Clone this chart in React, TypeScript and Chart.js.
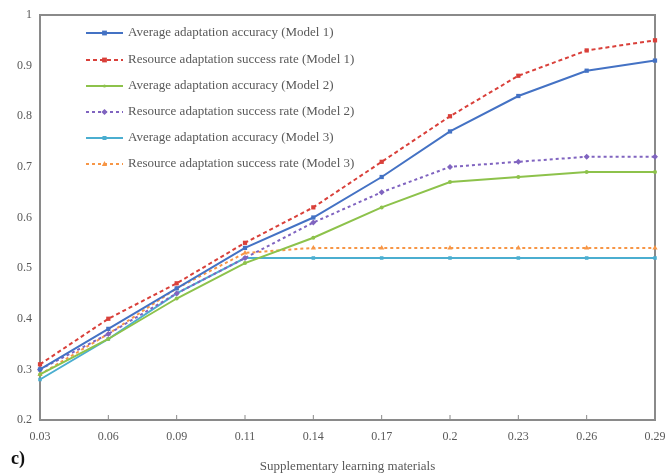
import React, { useEffect, useRef } from 'react';
import { Chart, registerables } from 'chart.js';
Chart.register(...registerables);

const categories = ['0.03', '0.06', '0.09', '0.11', '0.14', '0.17', '0.2', '0.23', '0.26', '0.29'];
const avgAccM1 = [0.30, 0.38, 0.46, 0.54, 0.60, 0.68, 0.77, 0.84, 0.89, 0.91];
const resRateM1 = [0.31, 0.40, 0.47, 0.55, 0.62, 0.71, 0.80, 0.88, 0.93, 0.95];
const avgAccM2 = [0.29, 0.36, 0.44, 0.51, 0.56, 0.62, 0.67, 0.68, 0.69, 0.69];
const resRateM2 = [0.30, 0.37, 0.45, 0.52, 0.59, 0.65, 0.70, 0.71, 0.72, 0.72];
const avgAccM3 = [0.28, 0.36, 0.45, 0.52, 0.52, 0.52, 0.52, 0.52, 0.52, 0.52];
const resRateM3 = [0.29, 0.37, 0.46, 0.53, 0.54, 0.54, 0.54, 0.54, 0.54, 0.54];
const seriesNames = [
  'Average adaptation accuracy (Model 1)',
  'Resource adaptation success rate (Model 1)',
  'Average adaptation accuracy (Model 2)',
  'Resource adaptation success rate (Model 2)',
  'Average adaptation accuracy (Model 3)',
  'Resource adaptation success rate (Model 3)',
];
const xTitle = 'Supplementary learning materials';
const yMin = 0.2;
const yMax = 1;
const yStep = 0.1;

const colors = ['#4472C4', '#D9403A', '#8DC24B', '#8064C0', '#4BAED0', '#F79646'];
const dashes = [[], [4, 3], [], [3, 3], [], [3, 3]];
const pointStyles = ['rect', 'rect', 'circle', 'rectRot', 'rect', 'triangle'];
const pointRadii = [3, 3, 2, 3, 2.5, 3];
const seriesData = [avgAccM1, resRateM1, avgAccM2, resRateM2, avgAccM3, resRateM3];

function drawMarker(ctx: CanvasRenderingContext2D, style: string, x: number, y: number, r: number, color: string) {
  ctx.save();
  ctx.fillStyle = color;
  ctx.setLineDash([]);
  ctx.beginPath();
  if (style === 'rect') {
    ctx.rect(x - r, y - r, 2 * r, 2 * r);
  } else if (style === 'rectRot') {
    ctx.moveTo(x, y - r * 1.3);
    ctx.lineTo(x + r * 1.3, y);
    ctx.lineTo(x, y + r * 1.3);
    ctx.lineTo(x - r * 1.3, y);
    ctx.closePath();
  } else if (style === 'triangle') {
    ctx.moveTo(x, y - r * 1.2);
    ctx.lineTo(x + r * 1.1, y + r * 0.8);
    ctx.lineTo(x - r * 1.1, y + r * 0.8);
    ctx.closePath();
  } else {
    ctx.arc(x, y, r, 0, Math.PI * 2);
  }
  ctx.fill();
  ctx.restore();
}

const framePlugin = {
  id: 'frameAndLegend',
  beforeDatasetsDraw(chart: any) {
    const { ctx, chartArea } = chart;
    ctx.save();
    ctx.strokeStyle = '#8a8a8a';
    ctx.lineWidth = 2;
    ctx.strokeRect(chartArea.left, chartArea.top, chartArea.right - chartArea.left, chartArea.bottom - chartArea.top);
    const xs = chart.scales.x;
    ctx.lineWidth = 1;
    categories.forEach((_, i) => {
      const px = xs.getPixelForValue(i);
      ctx.beginPath();
      ctx.moveTo(px, chartArea.bottom);
      ctx.lineTo(px, chartArea.bottom - 5);
      ctx.stroke();
    });
    ctx.restore();
  },
  afterDraw(chart: any) {
    const { ctx } = chart;
    ctx.save();
    const x0 = 86;
    const x1 = 123;
    const ys = [33, 60, 86, 112, 138, 164];
    ctx.font = '13px "Liberation Serif", "Times New Roman", serif';
    ctx.textBaseline = 'middle';
    seriesNames.forEach((name, i) => {
      const y = ys[i];
      ctx.strokeStyle = colors[i];
      ctx.lineWidth = 2;
      ctx.setLineDash(dashes[i]);
      ctx.beginPath();
      ctx.moveTo(x0, y);
      ctx.lineTo(x1, y);
      ctx.stroke();
      drawMarker(ctx, pointStyles[i], (x0 + x1) / 2, y, pointRadii[i] * 0.8, colors[i]);
      ctx.fillStyle = '#595959';
      ctx.fillText(name, 128, y);
    });
    ctx.restore();
  },
};

export default function App() {
  const canvasRef = useRef<HTMLCanvasElement | null>(null);

  useEffect(() => {
    if (!canvasRef.current) return;
    const chart = new Chart(canvasRef.current, {
      type: 'line',
      data: {
        labels: categories,
        datasets: seriesData.map((d, i) => ({
          label: seriesNames[i],
          data: d,
          borderColor: colors[i],
          backgroundColor: colors[i],
          borderWidth: 2,
          borderDash: dashes[i],
          pointStyle: pointStyles[i] as any,
          pointRadius: pointRadii[i],
          pointBorderWidth: 0,
          pointBackgroundColor: colors[i],
          tension: 0,
          fill: false,
        })),
      },
      options: {
        animation: false,
        responsive: false,
        maintainAspectRatio: false,
        layout: { padding: { top: 15, right: 13, left: 0, bottom: 0 } },
        plugins: { legend: { display: false }, tooltip: { enabled: false } },
        scales: {
          x: {
            offset: false,
            grid: { display: false, drawTicks: false },
            border: { display: false },
            ticks: {
              color: '#595959',
              font: { family: '"Liberation Serif", "Times New Roman", serif', size: 12 },
              padding: 10,
              maxRotation: 0,
              autoSkip: false,
            },
            title: {
              display: true,
              text: xTitle,
              color: '#595959',
              font: { family: '"Liberation Serif", "Times New Roman", serif', size: 13 },
              padding: { top: 6, bottom: 0 },
            },
            afterFit: (scale: any) => {
              scale.height = 54;
              scale.paddingRight = 0;
              scale.paddingLeft = 0;
            },
          },
          y: {
            min: yMin,
            max: yMax,
            grid: { display: false, drawTicks: false },
            border: { display: false },
            ticks: {
              stepSize: yStep,
              color: '#595959',
              font: { family: '"Liberation Serif", "Times New Roman", serif', size: 12 },
              padding: 8,
              callback: (v: any) => String(Number(Number(v).toFixed(1))),
            },
            afterFit: (scale: any) => {
              scale.width = 40;
              scale.paddingTop = 0;
              scale.paddingBottom = 0;
            },
          },
        },
      },
      plugins: [framePlugin],
    });
    return () => chart.destroy();
  }, []);

  return (
    <div style={{ position: 'fixed', left: 0, top: 0, width: 668, height: 474, background: '#fff' }}>
      <canvas ref={canvasRef} width={668} height={474} style={{ display: 'block' }} />
      <div
        style={{
          position: 'absolute',
          left: 11,
          top: 448,
          fontFamily: '"Liberation Serif", "Times New Roman", serif',
          fontWeight: 'bold',
          fontSize: 18,
          lineHeight: '20px',
          color: '#111',
        }}
      >
        c)
      </div>
    </div>
  );
}
